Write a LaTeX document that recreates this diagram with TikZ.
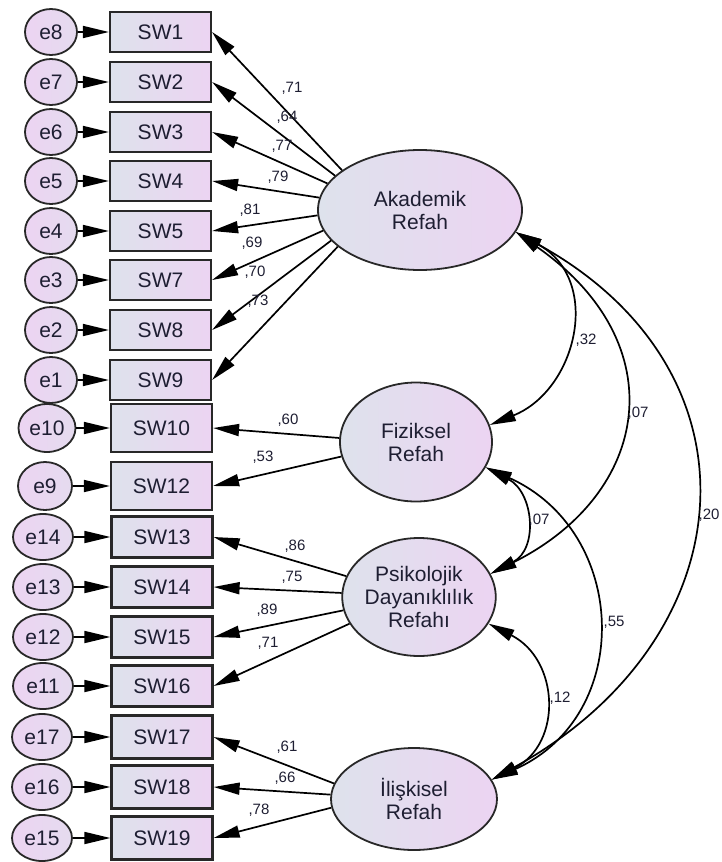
\documentclass[tikz,border=0pt]{standalone}
\usepackage{fontspec}
\setmainfont{Liberation Sans}
\usetikzlibrary{arrows.meta,shapes.geometric}
\definecolor{cgray}{RGB}{222,226,236}
\definecolor{cpink}{RGB}{236,212,242}
\definecolor{ctext}{RGB}{30,30,50}
\definecolor{cline}{RGB}{40,40,40}
\begin{document}
\begin{tikzpicture}[x=1pt,y=-1pt,
  font=\fontsize{21}{23}\selectfont, text=ctext,
  box/.style={draw=cline, line width=2.2pt, rectangle, minimum width=101pt, minimum height=40pt, inner sep=0pt, left color=cgray, right color=cpink},
  err/.style={draw=cline, line width=1.8pt, ellipse, minimum width=52pt, minimum height=46pt, inner sep=0pt, left color=cpink, right color=cgray!50!cpink},
  lat/.style={draw=cline, line width=1.8pt, ellipse, inner sep=0pt, align=center, left color=cgray, right color=cpink},
  arr/.style={line width=1.7pt, -{Triangle[length=26pt,width=12pt]}},
  cov/.style={line width=1.7pt, {Triangle[length=26pt,width=12pt]}-{Triangle[length=26pt,width=12pt]}},
  lbl/.style={font=\fontsize{15}{15}\selectfont, inner sep=0pt}
]
\useasboundingbox (0,0) rectangle (721,862);
% latent variables
\node[lat, minimum width=204pt, minimum height=120pt] (ak) at (420,210) {Akademik\\Refah};
\node[lat, minimum width=152pt, minimum height=119pt] (fiz) at (416,442) {Fiziksel\\Refah};
\node[lat, minimum width=144pt, minimum height=118pt] (psi) at (419,597) {Psikolojik\\Dayanıklılık\\Refahı};
\node[lat, minimum width=166pt, minimum height=102pt] (ili) at (414,799) {İlişkisel\\Refah};
% observed variables
\node[box] (sw1) at (160.5,32) {SW1};
\node[box] (sw2) at (160.5,82) {SW2};
\node[box] (sw3) at (160.5,132) {SW3};
\node[box] (sw4) at (160.5,181) {SW4};
\node[box] (sw5) at (160.5,231) {SW5};
\node[box] (sw7) at (160.5,280) {SW7};
\node[box] (sw8) at (160.5,330) {SW8};
\node[box] (sw9) at (160.5,380) {SW9};
\node[box, minimum height=48pt] (sw10) at (161.5,428) {SW10};
\node[box, minimum height=48pt] (sw12) at (161.5,486) {SW12};
\node[box, minimum height=41pt] (sw13) at (162,537) {SW13};
\node[box, minimum height=41pt] (sw14) at (162,587) {SW14};
\node[box, minimum height=41pt] (sw15) at (162,637) {SW15};
\node[box, minimum height=41pt] (sw16) at (162,686) {SW16};
\node[box, minimum height=43pt] (sw17) at (162,737) {SW17};
\node[box, minimum height=43pt] (sw18) at (162,787) {SW18};
\node[box, minimum height=43pt] (sw19) at (162,838) {SW19};
% errors
\node[err] (e8) at (51,32) {e8};
\node[err] (e7) at (51,82) {e7};
\node[err] (e6) at (51,132) {e6};
\node[err] (e5) at (51,181) {e5};
\node[err] (e4) at (51,231) {e4};
\node[err] (e3) at (51,280) {e3};
\node[err] (e2) at (51,330) {e2};
\node[err] (e1) at (51,380) {e1};
\node[err, minimum width=57pt, minimum height=48pt] (e10) at (47,428) {e10};
\node[err, minimum width=54pt, minimum height=48pt] (e9) at (45,486) {e9};
\node[err, minimum width=60pt] (e14) at (43,537) {e14};
\node[err, minimum width=60pt] (e13) at (43,587) {e13};
\node[err, minimum width=60pt] (e12) at (43,637) {e12};
\node[err, minimum width=60pt] (e11) at (43,686) {e11};
\node[err, minimum width=60pt] (e17) at (42,737) {e17};
\node[err, minimum width=60pt] (e16) at (42,787) {e16};
\node[err, minimum width=60pt] (e15) at (42,838) {e15};
% error arrows
\foreach \e/\s in {e8/sw1,e7/sw2,e6/sw3,e5/sw4,e4/sw5,e3/sw7,e2/sw8,e1/sw9,e10/sw10,e9/sw12,e14/sw13,e13/sw14,e12/sw15,e11/sw16,e17/sw17,e16/sw18,e15/sw19}
  \draw[arr] (\e) -- (\s);
% loadings
\foreach \a/\s in {153/sw1,158/sw2,164.7/sw3,173/sw4,183/sw5,192/sw7,199/sw8,204/sw9}
  \draw[arr] (ak.\a) -- (\s.east);
\foreach \a/\s in {177/sw10,191/sw12}
  \draw[arr] (fiz.\a) -- (\s.east);
\foreach \a/\s in {164/sw13,177/sw14,190/sw15,201/sw16}
  \draw[arr] (psi.\a) -- (\s.east);
\foreach \a/\s in {169/sw17,177/sw18,186/sw19}
  \draw[arr] (ili.\a) -- (\s.east);
% covariances
\draw[cov] (ak.-13) .. controls +(87,48) and +(87,-35) .. (fiz.13);
\draw[cov] (ak.-13) .. controls +(160,112) and +(160,-80) .. (psi.18);
\draw[cov] (ak.-13) .. controls +(254,140) and +(254,-140) .. (ili.14);
\draw[cov] (fiz.-20) .. controls +(48,25) and +(48,-25) .. (psi.18);
\draw[cov] (fiz.-20) .. controls +(143,64) and +(143,-64) .. (ili.14);
\draw[cov] (psi.-21) .. controls +(71,36) and +(71,-36) .. (ili.14);
% loading labels
\node[lbl] (l1) at (292,88) {,71};
\node[lbl] (l2) at (287,117) {,64};
\node[lbl] (l3) at (282,146) {,77};
\node[lbl] (l4) at (278,177) {,79};
\node[lbl] (l5) at (250,210) {,81};
\node[lbl] (l7) at (252,243) {,69};
\node[lbl] (l8) at (255,272) {,70};
\node[lbl] (l9) at (258,301) {,73};
\node[lbl] (l10) at (288,420) {,60};
\node[lbl] (l12) at (263,457) {,53};
\node[lbl] (l13) at (295,546) {,86};
\node[lbl] (l14) at (292,577) {,75};
\node[lbl] (l15) at (267,610) {,89};
\node[lbl] (l16) at (268,643) {,71};
\node[lbl] (l17) at (287,747) {,61};
\node[lbl] (l18) at (285,778) {,66};
\node[lbl] (l19) at (259,810) {,78};
% covariance labels
\node[lbl] (c1) at (586,340) {,32};
\node[lbl] (c2) at (638,413) {,07};
\node[lbl] (c3) at (709,515) {,20};
\node[lbl] (c4) at (539,520) {,07};
\node[lbl] (c5) at (614,622) {,55};
\node[lbl] (c6) at (560,698) {,12};
\end{tikzpicture}
\end{document}
